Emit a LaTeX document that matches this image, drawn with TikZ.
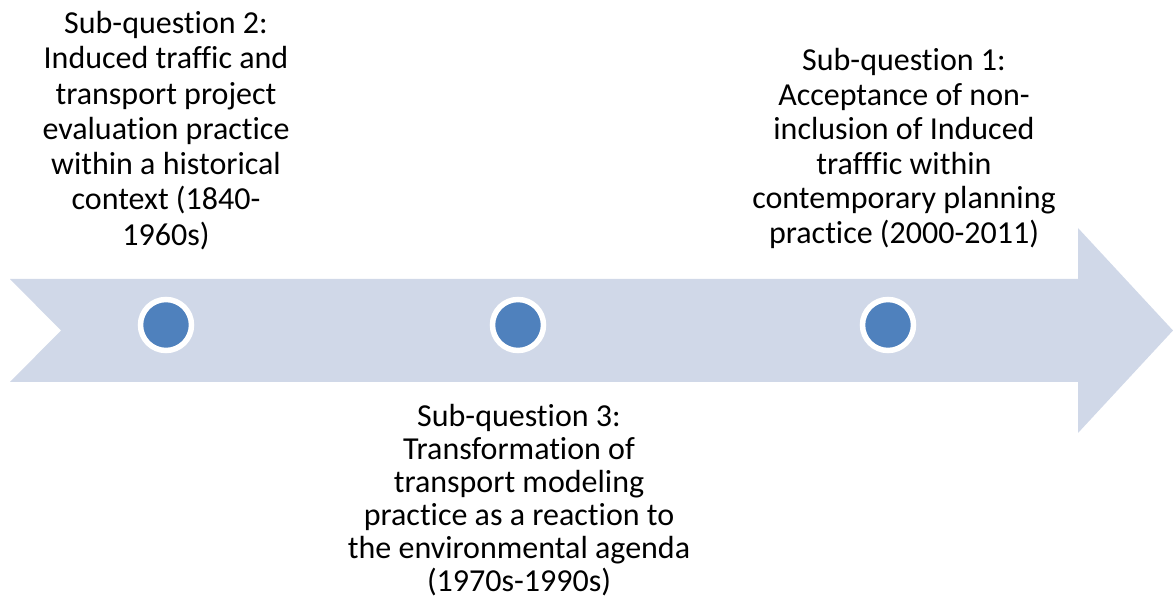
\documentclass[tikz,border=0pt]{standalone}
\usepackage{fontspec}
\setmainfont{Carlito}[Ligatures=NoCommon]
\usetikzlibrary{positioning}
\definecolor{arrowfill}{HTML}{D0D8E8}
\definecolor{dotfill}{HTML}{4F81BD}

\begin{document}
\begin{tikzpicture}[x=1pt,y=-1pt,
  subq/.style={align=center, inner sep=0pt, font=\fontsize{32}{#1}\selectfont},
  subq/.default=35,
  dot/.style={circle, fill=dotfill, draw=white, line width=5.5pt, minimum size=51pt, inner sep=0pt}]
\useasboundingbox (0,0) rectangle (1173,601);
\fill[arrowfill] (10,279) -- (1078,279) -- (1078,228) -- (1173,330.5)
  -- (1078,433) -- (1078,382) -- (10,382) -- (61,330.5) -- cycle;

\node[dot] (dot2) at (166,325) {};
\node[dot] (dot3) at (518,325) {};
\node[dot] (dot1) at (888,325) {};

\node[subq=35.3, anchor=north] (sq2) at (166,11) {Sub-question 2:\\ Induced traffic and\\ transport project\\ evaluation practice\\ within a historical\\ context (1840-\\ 1960s)};
\node[subq=34.6, anchor=north] (sq1) at (904,48) {Sub-question 1:\\ Acceptance of non-\\ inclusion of Induced\\ trafffic within\\ contemporary planning\\ practice (2000-2011)};
\node[subq=33, anchor=north] (sq3) at (519,404) {Sub-question 3:\\ Transformation of\\ transport modeling\\ practice as a reaction to\\ the environmental agenda\\ (1970s-1990s)};

%\node[dot] at (0,0) {};
\end{tikzpicture}
\end{document}
